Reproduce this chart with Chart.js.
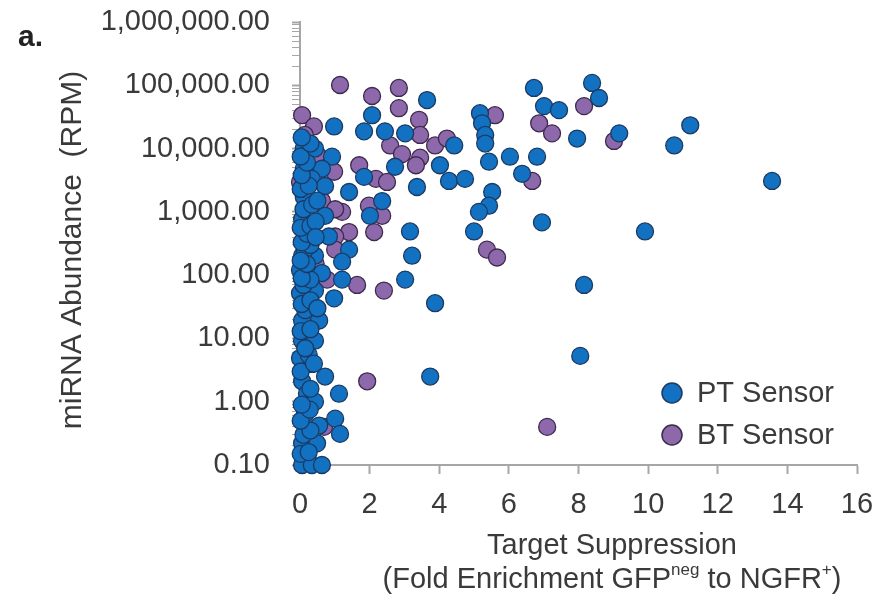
<!DOCTYPE html>
<html>
<head>
<meta charset="utf-8">
<script src="https://cdn.jsdelivr.net/npm/chart.js@4.4.1/dist/chart.umd.min.js"></script>
<style>
  html, body { margin: 0; padding: 0; background: #fff; }
</style>
</head>
<body>
<canvas id="scatter" width="884" height="599"></canvas>
<script>
// PT Sensor points (x = fold enrichment, y = RPM)
const ptX = [
  3.65, 6.72, 8.39, 8.59, 7.01, 7.44, 5.17, 5.23, 5.32, 5.32, 7.96, 9.17, 4.43, 4.02, 4.28, 4.74, 5.43,
  6.03, 6.81, 6.38, 5.52, 5.43, 5.14, 6.95, 5.0, 9.91, 11.21, 10.75, 13.56, 8.16, 3.88, 8.05, 3.74,
  2.07, 1.84, 2.44, 3.02, 2.73, 3.36, 1.84, 1.41, 2.36, 2.01, 3.16, 3.22, 3.02, 1.41, 1.21,
  0.98, 0.11, 0.43, 0.92, 0.11, 0.63, 0.34, 0.72, 0.11, 0.72, 0.06, 0.83, 0.14, 0.06, 0.43, 1.21,
  0.14, 0.0, 0.63, 0.0, 0.43, 0.98, 0.06, 0.55, 0.06, 0.43, 0.0, 0.34, 0.72, 0.06, 1.12, 0.2,
  0.43, 0.14, 1.01, 0.55, 1.15, 0.06, 0.49, 0.06, 0.34, 0.63,
  0.02, 0.25, 0.1, 0.3, 0.02, 0.28, 0.05, 0.3, 0.02, 0.25, 0.15, 0.02, 0.3, 0.15, 0.05, 0.3, 0.1,
  0.3, 0.05, 0.2, 0.02, 0.3, 0.05, 0.2, 0.02, 0.3, 0.1, 0.35, 0.02, 0.25, 0.05, 0.2, 0.02, 0.3,
  0.05, 0.45, 0.5, 0.45, 0.5, 0.4
];
const ptY = [
  58400, 90800, 109000, 63000, 46900, 40500, 36200, 25100, 16400, 12000, 14400, 17400, 11200, 5450, 3080, 3320, 6200,
  7450, 7450, 3990, 2060, 1250, 1000, 682, 490, 490, 23300, 11200, 3080, 70, 36, 5.3, 2.5,
  33700, 18700, 18700, 17400, 5160, 2470, 3570, 2060, 1480, 867, 490, 203, 85, 253, 85,
  22400, 10000, 10000, 7450, 4800, 4800, 3320, 2560, 1710, 867, 762, 408, 365, 203, 203, 163,
  253, 121, 108, 52, 57, 43, 19.2, 19.2, 9.2, 9.2, 4.9, 3.95, 2.5, 2.1, 1.34, 1.34,
  1.0, 0.63, 0.54, 0.42, 0.31, 0.22, 0.22, 0.1, 0.1, 0.1,
  0.15, 0.16, 0.3, 0.35, 0.5, 0.75, 0.9, 1.6, 3.0, 5.5, 7, 13, 14, 28, 35, 40, 70,
  85, 90, 150, 170, 300, 330, 450, 560, 600, 1100, 1300, 2300, 2600, 3800, 6000, 7500, 12000,
  15000, 700, 1500, 400, 30, 4
];

// BT Sensor points
const btX = [
  8.16, 5.60, 6.87, 7.24, 9.02, 3.88, 4.22, 6.67, 5.37, 5.66, 7.10,
  1.15, 2.07, 2.84, 2.84, 3.42, 3.45, 2.59, 2.93, 3.45, 3.33, 1.70, 2.18, 2.50, 1.98, 2.36, 1.21,
  2.13, 1.41, 1.64, 2.41, 1.93,
  0.06, 0.40, 0.14, 0.49, 0.0, 0.63, 1.01, 0.98, 1.01, 1.01, 0.78, 0.69, 0.3, 0.45, 0.2
];
const btY = [
  46900, 33700, 25100, 17400, 13200, 11200, 14400, 3080, 253, 190, 0.40,
  101000, 67700, 90800, 43500, 28500, 16400, 11200, 8170, 7180, 5450, 5450, 3320, 2970, 1250, 867, 1000,
  480, 480, 70, 57, 2.1,
  33700, 22400, 16400, 8170, 2970, 1480, 1100, 4300, 408, 253, 85, 0.40, 600, 150, 45
];

const seriesNames = ['PT Sensor', 'BT Sensor'];
const yMajor = [0.1, 1, 10, 100, 1000, 10000, 100000, 1000000];
const xMin = 0, xMax = 16, xStep = 2;

const FONT = "'Liberation Sans', Arial, sans-serif";
const TEXT = '#3a3a3a';
const AXIS = '#a6a6a6';
const colors = [
  { fill: '#1271c0', edge: '#1b3a63' },
  { fill: '#8d68ab', edge: '#3d2a4c' }
];

function toPoints(xs, ys) {
  return xs.map((x, i) => ({ x: x, y: ys[i] }));
}
function isDecade(v) {
  const l = Math.log10(v);
  return Math.abs(l - Math.round(l)) < 1e-6;
}

const overlay = {
  id: 'overlay',
  afterDraw(chart) {
    const ctx = chart.ctx;
    ctx.save();
    ctx.fillStyle = '#222';
    ctx.textBaseline = 'middle';

    // panel letter
    ctx.font = 'bold 30px ' + FONT;
    ctx.textAlign = 'left';
    ctx.fillText('a.', 18, 38);

    // y axis title
    ctx.fillStyle = TEXT;
    ctx.save();
    ctx.translate(73, 250);
    ctx.rotate(-Math.PI / 2);
    ctx.textAlign = 'center';
    ctx.font = '30px ' + FONT;
    ctx.fillText('miRNA Abundance  (RPM)', 0, 0);
    ctx.restore();

    // x axis title, second line has superscripts
    ctx.font = '29px ' + FONT;
    ctx.textAlign = 'center';
    const cx = 612;
    ctx.fillText('Target Suppression', cx, 546);

    const parts = [
      ['(Fold Enrichment GFP', false], ['neg', true], [' to NGFR', false], ['+', true], [')', false]
    ];
    let total = 0;
    parts.forEach(p => {
      ctx.font = (p[1] ? '17px ' : '29px ') + FONT;
      p.push(ctx.measureText(p[0]).width);
      total += p[2];
    });
    let px = cx - total / 2;
    ctx.textAlign = 'left';
    parts.forEach(p => {
      ctx.font = (p[1] ? '17px ' : '29px ') + FONT;
      ctx.fillText(p[0], px, p[1] ? 570 : 580);
      px += p[2];
    });

    // legend
    chart.data.datasets.forEach((ds, i) => {
      const ly = 393 + i * 42;
      ctx.beginPath();
      ctx.arc(672, ly, 10, 0, Math.PI * 2);
      ctx.fillStyle = ds.backgroundColor;
      ctx.fill();
      ctx.lineWidth = 1.5;
      ctx.strokeStyle = ds.borderColor;
      ctx.stroke();
      ctx.fillStyle = TEXT;
      ctx.font = '29px ' + FONT;
      ctx.fillText(ds.label, 697, ly + 1);
    });
    ctx.restore();
  }
};

new Chart(document.getElementById('scatter'), {
  type: 'scatter',
  data: {
    datasets: [
      {
        label: seriesNames[0],
        data: toPoints(ptX, ptY),
        backgroundColor: colors[0].fill,
        borderColor: colors[0].edge,
        borderWidth: 1.3,
        pointRadius: 8.5,
        clip: false
      },
      {
        label: seriesNames[1],
        data: toPoints(btX, btY),
        backgroundColor: colors[1].fill,
        borderColor: colors[1].edge,
        borderWidth: 1.3,
        pointRadius: 8.5,
        clip: false
      }
    ]
  },
  options: {
    responsive: false,
    animation: false,
    layout: { padding: { top: 22, right: 27, left: 0, bottom: 0 } },
    plugins: {
      legend: { display: false },
      tooltip: { enabled: false }
    },
    scales: {
      x: {
        type: 'linear',
        min: xMin,
        max: xMax,
        afterFit: (scale) => {
          scale.height = 134;
          scale.paddingLeft = 0;
          scale.paddingRight = 0;
        },
        border: { color: AXIS, width: 2 },
        grid: { drawOnChartArea: false, tickLength: 9, tickColor: AXIS, tickWidth: 2 },
        ticks: {
          stepSize: xStep,
          padding: 14,
          color: TEXT,
          font: { family: FONT, size: 29 }
        }
      },
      y: {
        type: 'logarithmic',
        min: yMajor[0],
        max: yMajor[yMajor.length - 1],
        afterFit: (scale) => {
          scale.width = 300;
          scale.paddingTop = 0;
          scale.paddingBottom = 0;
        },
        afterBuildTicks: (scale) => {
          const t = [];
          yMajor.forEach((v, i) => {
            t.push({ value: v, major: true });
            if (i < yMajor.length - 1) {
              for (let m = 2; m < 10; m++) t.push({ value: v * m, major: false });
            }
          });
          scale.ticks = t;
        },
        border: { color: AXIS, width: 2 },
        grid: {
          drawOnChartArea: false,
          tickLength: 8,
          tickColor: AXIS,
          tickWidth: (c) => (c.tick && isDecade(c.tick.value)) ? 2 : 1
        },
        ticks: {
          autoSkip: false,
          padding: 22,
          color: TEXT,
          font: { family: FONT, size: 29 },
          callback: (v) => isDecade(v)
            ? Number(v).toLocaleString('en-US', { minimumFractionDigits: 2, maximumFractionDigits: 2 })
            : ''
        }
      }
    }
  },
  plugins: [overlay]
});
</script>
</body>
</html>
